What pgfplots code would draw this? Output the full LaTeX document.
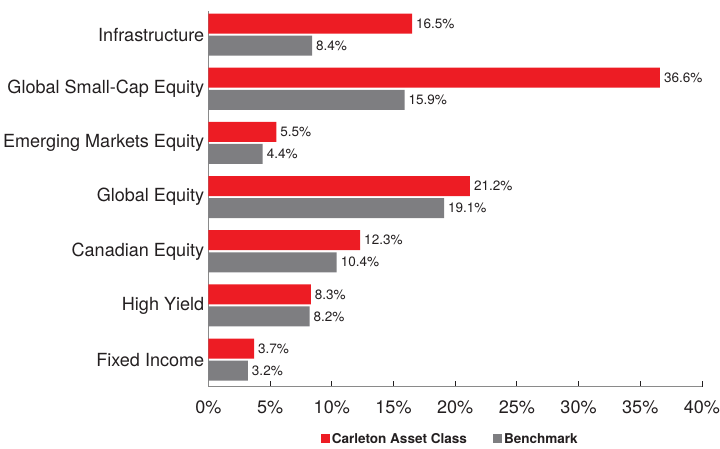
\documentclass[border=0pt]{standalone}
\usepackage{pgfplots}
\pgfplotsset{compat=1.18}
\usepackage{fontspec}
\setmainfont{TeX Gyre Heros}
\definecolor{cred}{HTML}{ED1C24}
\definecolor{cgray}{HTML}{7E7E81}
\definecolor{ctext}{HTML}{231F20}
\definecolor{caxis}{HTML}{8A8A8A}
\begin{document}
\begin{tikzpicture}
\begin{axis}[
  scale only axis,
  width=492pt, height=375pt,
  xmin=0, xmax=40, ymin=-0.5, ymax=6.444,
  xbar, bar width=0.37,
  axis lines*=left,
  axis line style={caxis, line width=1pt},
  xtick={0,5,...,40},
  xticklabel={\pgfmathprintnumber{\tick}\%},
  /pgf/number format/assume math mode=true,
  tick align=inside,
  major tick length=6pt,
  xtick style={ctext, line width=0.8pt},
  ytick={0,...,6},
  yticklabels={Fixed Income,High Yield,Canadian Equity,Global Equity,Emerging Markets Equity,Global Small-Cap Equity,Infrastructure},
  ytick style={draw=none},
  yticklabel style={font=\fontsize{18}{21}\selectfont, text=ctext, xshift=-1pt, inner xsep=3pt},
  xticklabel style={font=\fontsize{18}{21}\selectfont, text=ctext, yshift=-14pt, inner sep=0pt},
  nodes near coords={\pgfmathprintnumber[fixed,precision=1,fixed zerofill]{\pgfplotspointmeta}\%},
  nodes near coords style={font=\fontsize{13.5}{15}\selectfont, text=ctext, xshift=0.5pt},
  legend style={at={(0.49,-0.1387)}, anchor=center, draw=none, legend columns=2,
    font=\fontsize{13.5}{15}\selectfont\bfseries, text=ctext, inner sep=1pt,
    /tikz/every even column/.append style={column sep=24pt}},
  legend image code/.code={\fill[#1] (0pt,-4.5pt) rectangle (9pt,4.5pt);},
  clip=false,
]
\addplot[fill=cred, draw=none, bar shift=0.204] coordinates {
  (3.7,0) (8.3,1) (12.3,2) (21.2,3) (5.5,4) (36.6,5) (16.5,6)};
\addlegendentry{Carleton Asset Class}
\addplot[fill=cgray, draw=none, bar shift=-0.204] coordinates {
  (3.2,0) (8.2,1) (10.4,2) (19.1,3) (4.4,4) (15.9,5) (8.4,6)};
\addlegendentry{Benchmark}
\end{axis}
\path (current bounding box.north west) ++(0pt,10pt);
\path (current axis.south) ++(0,-62pt);
\end{tikzpicture}
\end{document}
